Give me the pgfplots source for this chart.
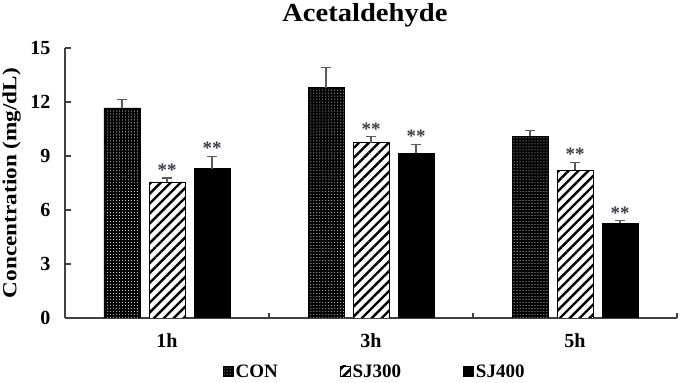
\documentclass[border=0pt]{standalone}
\usepackage{fontspec}
\setmainfont{Liberation Serif}
\usepackage{pgfplots}
\pgfplotsset{compat=1.18}
\usepackage{pgfplotstable}
\usetikzlibrary{patterns,patterns.meta}

\definecolor{axisgray}{HTML}{404040}
\definecolor{errgray}{HTML}{5A5A5A}
\definecolor{stargray}{HTML}{3C3C44}

% columns: x position, mean, upper error
\pgfplotstableread{
x y e
0 11.67 0.48
1 12.80 1.10
2 10.09 0.34
}\con
\pgfplotstableread{
x y e
0 7.56 0.22
1 9.74 0.33
2 8.22 0.41
}\sjA
\pgfplotstableread{
x y e
0 8.30 0.68
1 9.15 0.50
2 5.26 0.14
}\sjB

\tikzset{
  conbar/.style={draw=black, line width=0.8bp, fill=black,
    postaction={pattern=dots, pattern color=white}},
  sjAbar/.style={draw=black, line width=0.8bp, fill=white,
    postaction={pattern={Lines[angle=45, distance=7bp, line width=2.4bp]}, pattern color=black}},
  sjBbar/.style={draw=black, line width=0.8bp, fill=black},
}
\pgfplotsset{
  uperr/.style={
    error bars/y dir=plus, error bars/y explicit,
    error bars/error bar style={errgray, line width=1.2bp, solid},
    error bars/error mark options={errgray, line width=1.2bp, mark size=5bp, rotate=90, solid},
  },
  stars/.style={
    visualization depends on={\thisrow{e} \as \errv},
    nodes near coords={**},
    every node near coord/.append style={font=\fontsize{19bp}{21bp}\selectfont\bfseries,
      text=stargray, anchor=south, yshift=\errv*18bp-2bp},
  },
}

\begin{document}
\begin{tikzpicture}
\useasboundingbox (0,0) rectangle (685bp,383bp);
\begin{axis}[
  at={(65bp,65bp)}, anchor=south west,
  scale only axis, width=612bp, height=270bp,
  xmin=-0.5, xmax=2.5, ymin=0, ymax=15,
  axis x line=bottom, axis y line=left,
  axis line style={-, axisgray, line width=1.3bp},
  ybar=9bp, bar width=36bp,
  xtick={0,1,2}, xticklabels={1h,3h,5h},
  extra x ticks={0.5,1.5,2.5}, extra x tick labels={},
  extra x tick style={major tick length=5bp},
  ytick={0,3,6,9,12,15},
  tick align=inside,
  major tick length=0bp,
  every major tick/.append style={axisgray, line width=1.1bp},
  y tick style={/pgfplots/major tick length=6bp},
  /pgf/number format/assume math mode=true,
  tick label style={font=\fontsize{20bp}{22bp}\selectfont\bfseries, text=black},
  yticklabel style={xshift=-11bp},
  xticklabel style={yshift=-12bp},
  title={Acetaldehyde},
  title style={font=\fontsize{26bp}{28bp}\selectfont\bfseries, at={(0.49,1)}, anchor=base, yshift=21bp, xscale=1.1},
  ylabel={Concentration (mg/dL)},
  ylabel style={font=\fontsize{20bp}{22bp}\selectfont\bfseries, at={(axis description cs:-0.087,0.5)}, anchor=center, xscale=1.16},
  legend columns=3,
  legend style={draw=none, fill=none, at={(0.506,-0.2)}, anchor=center,
    font=\fontsize{19bp}{21bp}\selectfont\bfseries,
    /tikz/every even column/.append style={column sep=60bp}},
  legend image code/.code={\path[#1] (0bp,-4bp) rectangle (10bp,6bp);},
]
\addplot[conbar, uperr] table[x=x, y=y, y error=e] {\con};
\addlegendentry{CON}
\addplot[sjAbar, uperr, stars] table[x=x, y=y, y error=e] {\sjA};
\addlegendentry{SJ300}
\addplot[sjBbar, uperr, stars] table[x=x, y=y, y error=e] {\sjB};
\addlegendentry{SJ400}
\end{axis}
\end{tikzpicture}
\end{document}
